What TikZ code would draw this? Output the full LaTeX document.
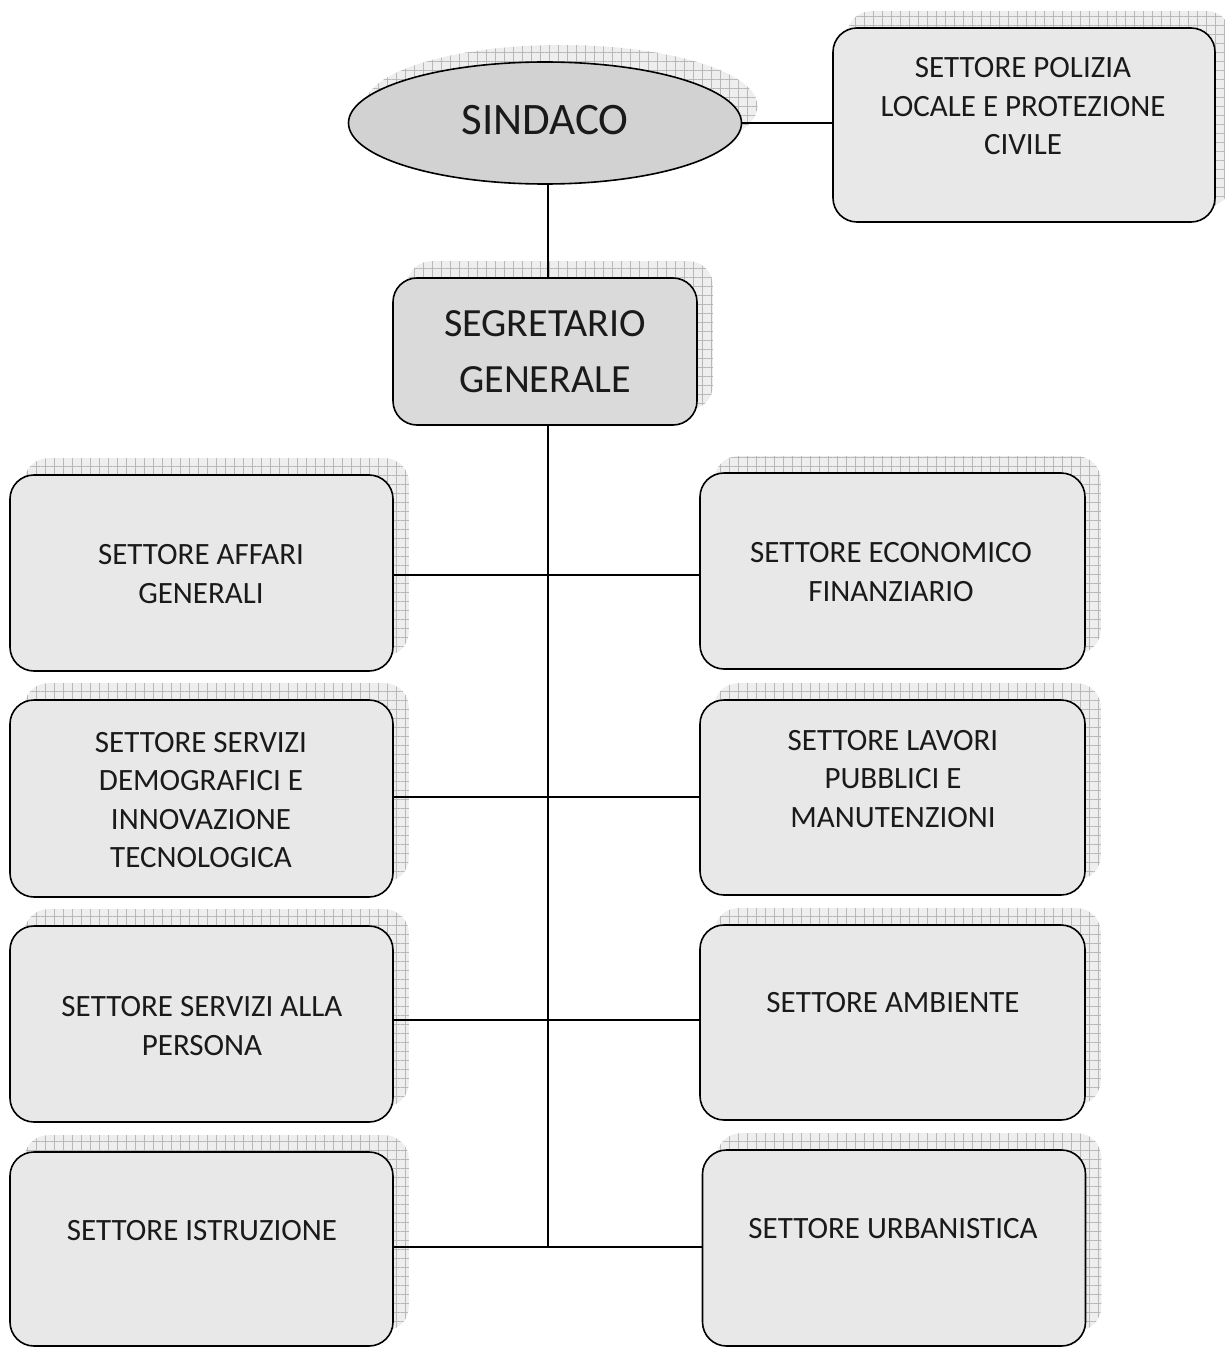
\documentclass[tikz,border=0pt]{standalone}
\usepackage{fontspec}
\setmainfont{Carlito}
\usetikzlibrary{shapes.geometric,patterns.meta,backgrounds}
\definecolor{boxfill}{HTML}{E8E8E8}
\definecolor{sindfill}{HTML}{D2D2D2}
\definecolor{segfill}{HTML}{DADADA}
\definecolor{shadfill}{HTML}{EEEEEE}
\definecolor{gridc}{HTML}{B8B8B8}
\definecolor{textc}{HTML}{1A1A1A}
\tikzset{
  orgbox/.style={draw=black, line width=1.6pt, rounded corners=24pt, fill=boxfill, inner sep=0pt,
    minimum width=383pt, minimum height=196pt},
  shad/.style={fill=shadfill, rounded corners=24pt,
    postaction={pattern={Lines[distance=9pt,angle=0,line width=0.7pt]}, pattern color=gridc},
    postaction={pattern={Lines[distance=9pt,angle=90,line width=0.7pt]}, pattern color=gridc}},
  lbl/.style={font=\fontsize{31}{38.5}\selectfont, align=center, text=textc, inner sep=0pt},
  conn/.style={line width=1.6pt, draw=black}
}
\newcommand{\orgshadow}[1]{%
  \path[shad] ([shift={(15,-16)}]#1.south west) rectangle ([shift={(15,-16)}]#1.north east);}
\begin{document}
\begin{tikzpicture}[x=1pt,y=-1pt]
\useasboundingbox (0,0) rectangle (1224,1348);

% top
\node[draw=black, line width=1.6pt, ellipse, fill=sindfill, minimum width=393pt, minimum height=122pt, inner sep=0pt,
  font=\fontsize{45}{54}\selectfont, text=textc] (sind) at (545,123) {\raisebox{7pt}{SINDACO}};
\node[orgbox, minimum width=382pt, minimum height=194pt] (pol) at (1024,125) {};
\node[lbl] (tpol) at (1023,106.5) {SETTORE POLIZIA\\LOCALE E PROTEZIONE\\CIVILE};
\node[orgbox, fill=segfill, minimum width=304pt, minimum height=147pt,
  font=\fontsize{40}{56}\selectfont, align=center, text=textc] (seg) at (545,351.5) {SEGRETARIO\\GENERALE};

% left column
\node[orgbox] (aff) at (201.5,573) {};
\node[lbl] (taff) at (201,574) {SETTORE AFFARI\\GENERALI};
\node[orgbox, minimum height=197pt] (dem) at (201.5,798.5) {};
\node[lbl] (tdem) at (201,800) {SETTORE SERVIZI\\DEMOGRAFICI E\\INNOVAZIONE\\TECNOLOGICA};
\node[orgbox] (per) at (201.5,1024) {};
\node[lbl] (tper) at (202,1026) {SETTORE SERVIZI ALLA\\PERSONA};
\node[orgbox, minimum height=194pt] (ist) at (201.5,1249) {};
\node[lbl] (tist) at (202,1231) {SETTORE ISTRUZIONE};

% right column
\node[orgbox, minimum width=385pt] (eco) at (892.5,571) {};
\node[lbl] (teco) at (891,572) {SETTORE ECONOMICO\\FINANZIARIO};
\node[orgbox, minimum width=385pt, minimum height=195pt] (lav) at (892.5,797.5) {};
\node[lbl] (tlav) at (893,779) {SETTORE LAVORI\\PUBBLICI E\\MANUTENZIONI};
\node[orgbox, minimum width=385pt, minimum height=195pt] (amb) at (892.5,1022.5) {};
\node[lbl] (tamb) at (893,1003) {SETTORE AMBIENTE};
\node[orgbox, minimum width=383pt, minimum height=196pt] (urb) at (894,1248) {};
\node[lbl] (turb) at (893,1229) {SETTORE URBANISTICA};

% shadows
\begin{scope}[on background layer]
  \fill[white] (0,0) rectangle (1224,1348);
  \path[shad] ([shift={(16,-17)}]sind.center) ellipse [x radius=196.5, y radius=61];
  \orgshadow{pol}
  \orgshadow{seg}
  \orgshadow{aff}
  \orgshadow{dem}
  \orgshadow{per}
  \orgshadow{ist}
  \orgshadow{eco}
  \orgshadow{lav}
  \orgshadow{amb}
  \orgshadow{urb}
\end{scope}

% connectors
\coordinate (trunk) at (548,0);
\coordinate (bot) at (548,1247);
\draw[conn] (sind.south -| trunk) -- (seg.north -| trunk);
\draw[conn] (seg.south -| trunk) -- (bot);
\draw[conn] (sind.east) -- (sind.east -| pol.west);
\draw[conn] (aff.east |- 0,575) -- (eco.west |- 0,575);
\draw[conn] (dem.east |- 0,797) -- (lav.west |- 0,797);
\draw[conn] (per.east |- 0,1020) -- (amb.west |- 0,1020);
\draw[conn] (ist.east |- bot) -- (urb.west |- bot);
\end{tikzpicture}
\end{document}
